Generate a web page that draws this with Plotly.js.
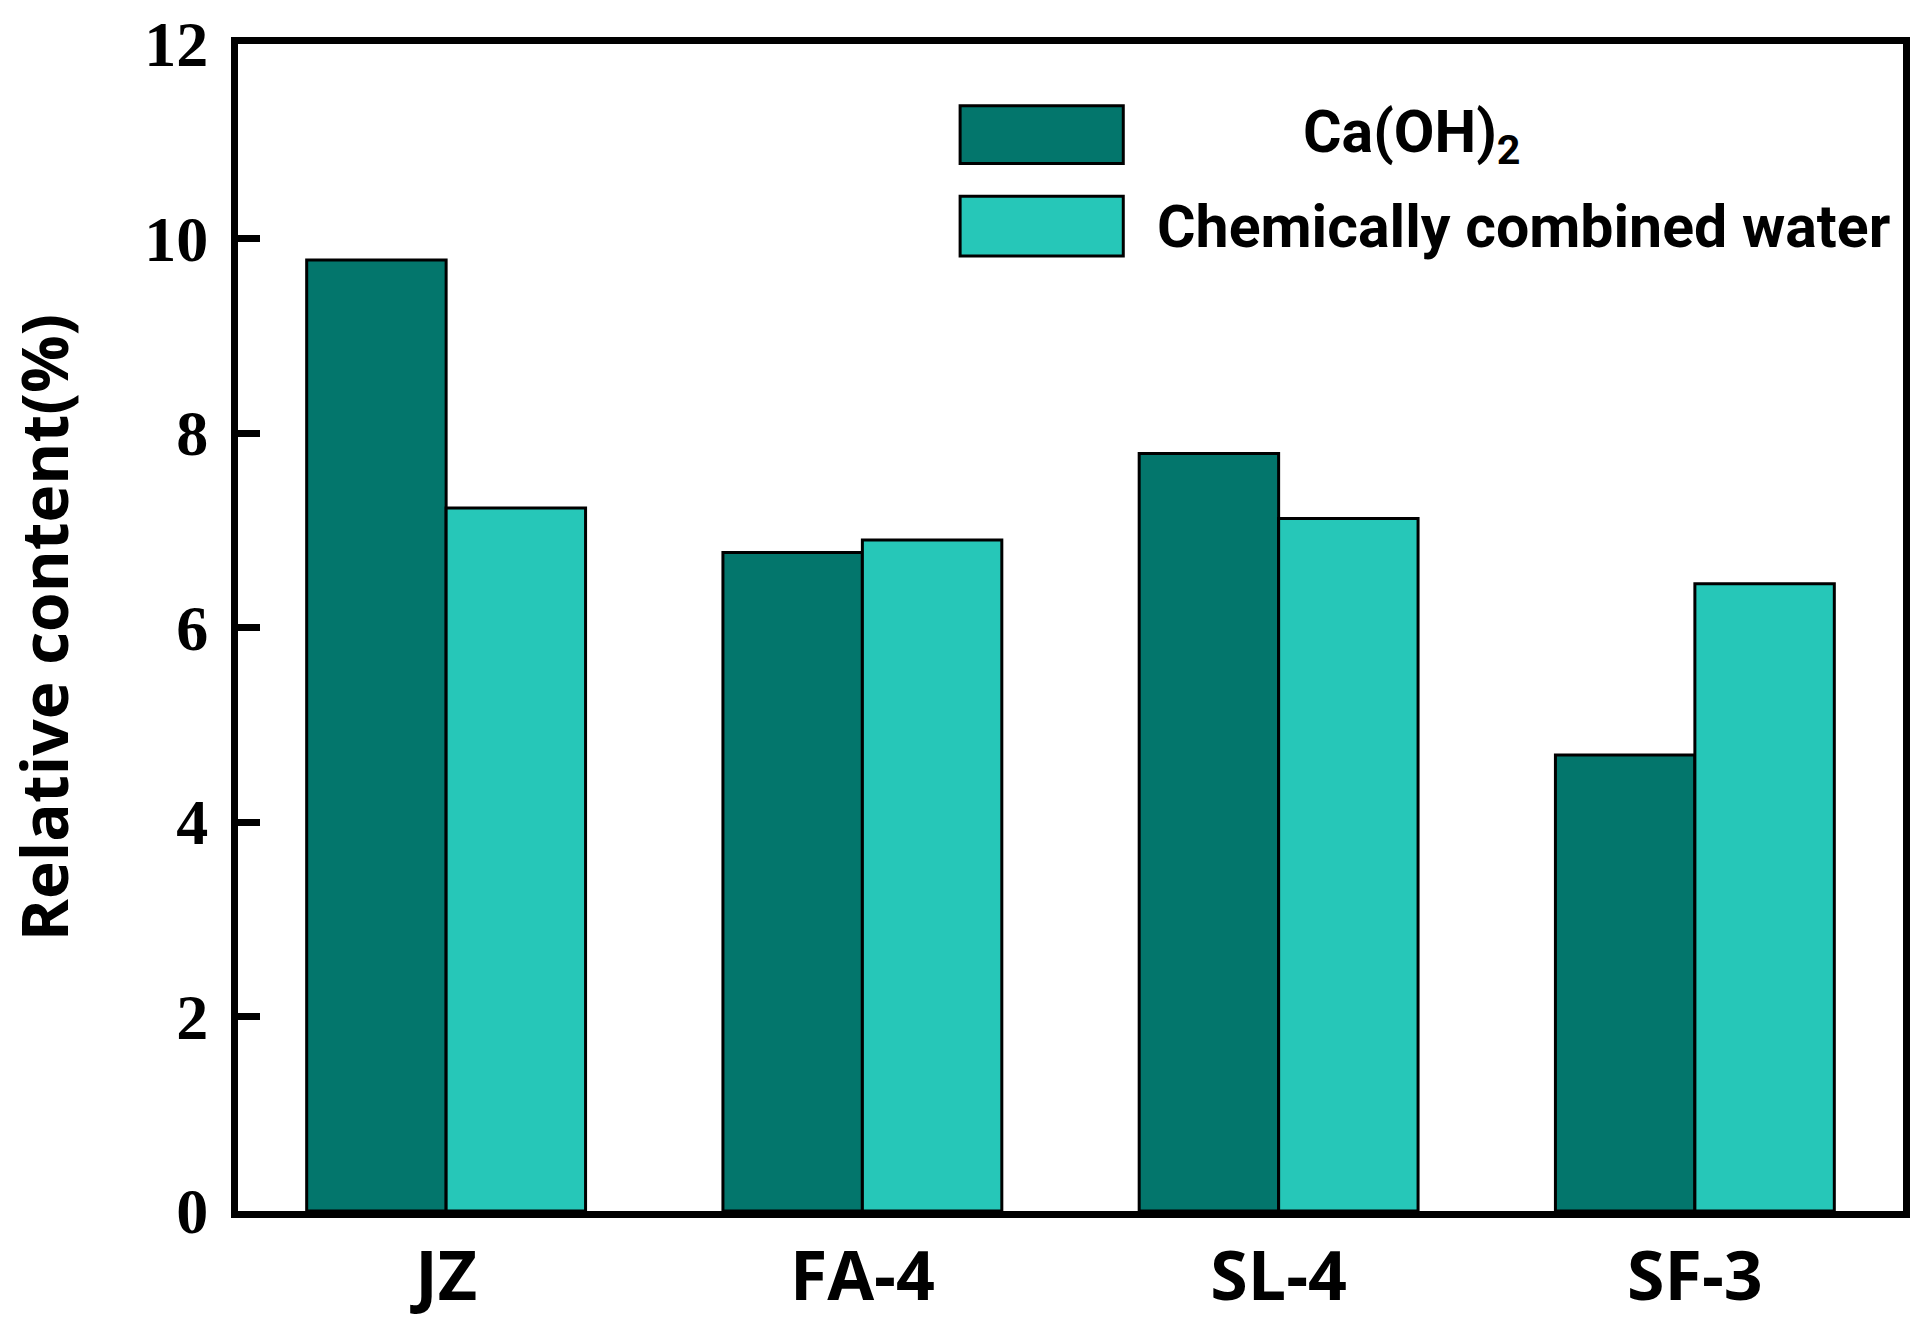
<!DOCTYPE html>
<html>
<head>
<meta charset="utf-8">
<script src="https://cdn.plot.ly/plotly-3.0.1.min.js"></script>
<style>html,body{margin:0;padding:0;background:#fff;}#chart{width:1927px;height:1322px;}</style>
</head>
<body>
<div id="chart"></div>
<script>
// ---- data ----
const categories = ['JZ', 'FA-4', 'SL-4', 'SF-3'];
const seriesNames = ['Ca(OH)<sub>2</sub>', 'Chemically combined water'];
const caOH = [9.78, 6.77, 7.79, 4.69];
const combinedWater = [7.23, 6.90, 7.12, 6.45];
const yTicks = [0, 2, 4, 6, 8, 10, 12];

// ---- styles ----
const colors = ['#03766C', '#26C7B8'];
const sansBold = 'Open Sans';
const legendFont = 'Roboto';

const traces = [
  {type: 'bar', x: categories, y: caOH, name: seriesNames[0], showlegend: false,
   marker: {color: colors[0], line: {color: '#000', width: 3}}, hoverinfo: 'skip'},
  {type: 'bar', x: categories, y: combinedWater, name: seriesNames[1], showlegend: false,
   marker: {color: colors[1], line: {color: '#000', width: 3}}, hoverinfo: 'skip'}
];

// custom legend with large swatches (paper coordinates)
const legendRows = [
  {y0: 0.8976, y1: 0.9471, ty: 0.9215, tx: 0.6385},
  {y0: 0.8183, y1: 0.8695, ty: 0.8439, tx: 0.5508}
];
const shapes = legendRows.map((r, i) => ({
  type: 'rect', xref: 'paper', yref: 'paper', x0: 0.4337, x1: 0.5317, y0: r.y0, y1: r.y1,
  fillcolor: colors[i], line: {color: '#000', width: 3}
}));
const annotations = legendRows.map((r, i) => ({
  xref: 'paper', yref: 'paper', x: r.tx, y: r.ty, xanchor: 'left', yanchor: 'middle',
  text: '<b>' + seriesNames[i] + '</b>', showarrow: false,
  font: {family: legendFont, size: 59, color: '#000'}
}));

const layout = {
  width: 1927, height: 1322,
  margin: {l: 238, r: 24, t: 44, b: 111},
  paper_bgcolor: '#fff', plot_bgcolor: '#fff',
  barmode: 'group', bargap: 0.33, bargroupgap: 0,
  showlegend: false,
  xaxis: {
    type: 'category', range: [-0.5, 3.5],
    showline: true, linecolor: '#000', linewidth: 7, mirror: true,
    ticks: '', showgrid: false, zeroline: false,
    tickfont: {family: sansBold, size: 68, color: '#000', weight: 'bold'},
    ticklabelstandoff: 0
  },
  yaxis: {
    range: [0, 12], tickvals: yTicks, ticktext: yTicks.map(String),
    showline: true, linecolor: '#000', linewidth: 7, mirror: true,
    ticks: 'inside', ticklen: 22, tickwidth: 7, tickcolor: '#000',
    showgrid: false, zeroline: false,
    tickfont: {family: 'Liberation Serif', size: 64, color: '#000', weight: 'bold'},
    ticklabelstandoff: 10,
    title: {text: 'Relative content(%)', standoff: 60,
            font: {family: sansBold, size: 64, color: '#000', weight: 'bold'}}
  },
  shapes: shapes,
  annotations: annotations
};

Plotly.newPlot('chart', traces, layout, {staticPlot: true, displayModeBar: false});
</script>
</body>
</html>
